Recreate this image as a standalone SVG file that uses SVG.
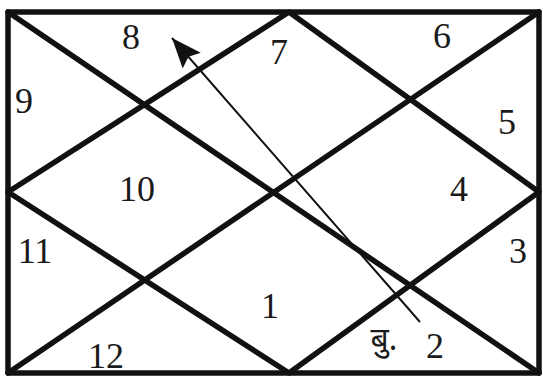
<svg xmlns="http://www.w3.org/2000/svg" width="543" height="380" viewBox="0 0 543 380">
<style>
.g{stroke:#111;stroke-width:5.5;fill:none;stroke-linecap:round;stroke-linejoin:round}
.n{font-family:"Liberation Serif","Times New Roman",serif;font-size:36px;fill:#1a1a1a;text-anchor:middle}
.d{font-family:"Noto Sans Devanagari","Lohit Devanagari","Noto Serif Devanagari","FreeSerif",serif;font-size:32px;fill:#1a1a1a;text-anchor:middle}
.c{stroke:#111;stroke-width:2;fill:none}
</style>
<defs>
<marker id="ah" viewBox="0 0 30 24" refX="30" refY="12" markerWidth="30" markerHeight="24" markerUnits="userSpaceOnUse" orient="auto">
<path d="M0,0 L30,12 L0,24 L5,12 Z" fill="#111"/>
</marker>
</defs>
<rect width="543" height="380" fill="#fff"/>
<g id="chart">
<rect class="g" x="8" y="12" width="531" height="361"/>
<line class="g" x1="8" y1="12" x2="539" y2="373"/>
<line class="g" x1="8" y1="373" x2="539" y2="12"/>
<polygon class="g" points="289,12 539,192 289,373 8,192"/>
</g>
<g id="connectors">
<line class="c" x1="420" y1="322" x2="172" y2="38" marker-end="url(#ah)"/>
</g>
<g id="h1"><text class="n" x="270" y="318">1</text></g>
<g id="h2"><text class="d" x="384" y="350">बु.</text><text class="n" x="435" y="358">2</text></g>
<g id="h3"><text class="n" x="518" y="263">3</text></g>
<g id="h4"><text class="n" x="459" y="201">4</text></g>
<g id="h5"><text class="n" x="507" y="134">5</text></g>
<g id="h6"><text class="n" x="442" y="48">6</text></g>
<g id="h7"><text class="n" x="279" y="64">7</text></g>
<g id="h8"><text class="n" x="131" y="49">8</text></g>
<g id="h9"><text class="n" x="24" y="113">9</text></g>
<g id="h10"><text class="n" x="137" y="201">10</text></g>
<g id="h11"><text class="n" x="35" y="263">11</text></g>
<g id="h12"><text class="n" x="106" y="368">12</text></g>
</svg>
